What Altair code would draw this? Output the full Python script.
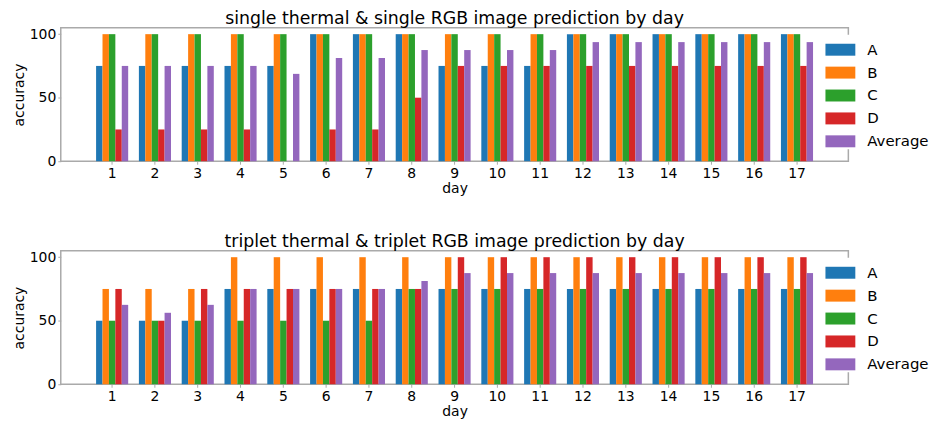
import altair as alt
import pandas as pd

days = list(range(1, 18))
series = ["A", "B", "C", "D", "Average"]
colors = ["#1f77b4", "#ff7f0e", "#2ca02c", "#d62728", "#9467bd"]

# single thermal & single RGB
s_A = [75, 75, 75, 75, 75, 100, 100, 100, 75, 75, 75, 100, 100, 100, 100, 100, 100]
s_B = [100] * 17
s_C = [100] * 17
s_D = [25, 25, 25, 25, 0, 25, 25, 50, 75, 75, 75, 75, 75, 75, 75, 75, 75]
s_Avg = [75, 75, 75, 75, 68.75, 81.25, 81.25, 87.5, 87.5, 87.5, 87.5, 93.75, 93.75, 93.75, 93.75, 93.75, 93.75]

# triplet thermal & triplet RGB
t_A = [50, 50, 50, 75, 75, 75, 75, 75, 75, 75, 75, 75, 75, 75, 75, 75, 75]
t_B = [75, 75, 75, 100, 100, 100, 100, 100, 100, 100, 100, 100, 100, 100, 100, 100, 100]
t_C = [50, 50, 50, 50, 50, 50, 50, 75, 75, 75, 75, 75, 75, 75, 75, 75, 75]
t_D = [75, 50, 75, 75, 75, 75, 75, 75, 100, 100, 100, 100, 100, 100, 100, 100, 100]
t_Avg = [62.5, 56.25, 62.5, 75, 75, 75, 75, 81.25, 87.5, 87.5, 87.5, 87.5, 87.5, 87.5, 87.5, 87.5, 87.5]

titles = ["single thermal & single RGB image prediction by day",
          "triplet thermal & triplet RGB image prediction by day"]


def long_df(cols):
    rows = []
    for name, vals in zip(series, cols):
        for d, v in zip(days, vals):
            rows.append({"day": d, "series": name, "accuracy": v})
    return pd.DataFrame(rows)


FONT = "DejaVu Sans"


def panel(df, title):
    return alt.Chart(df, title=alt.Title(title, fontSize=17.4, font=FONT, fontWeight="normal",
                                          offset=0, color="#000")).mark_bar().encode(
        x=alt.X("day:O", title="day",
                scale=alt.Scale(paddingInner=0.25, paddingOuter=0.825),
                axis=alt.Axis(labelAngle=0, domain=False, tickColor="#aaa",
                              tickSize=3, labelPadding=2, titlePadding=1)),
        xOffset=alt.XOffset("series:N", sort=series,
                            scale=alt.Scale(paddingInner=0, paddingOuter=0)),
        y=alt.Y("accuracy:Q", title="accuracy",
                scale=alt.Scale(domain=[0, 105], nice=False),
                axis=alt.Axis(values=[0, 50, 100], grid=False, domain=False,
                              tickColor="#aaa", tickSize=3, labelPadding=2,
                              titlePadding=3)),
        color=alt.Color("series:N", sort=series,
                        scale=alt.Scale(domain=series, range=colors),
                        legend=alt.Legend(title=None, orient="none", legendX=768, legendY=7,
                                          symbolType="M-1,-0.4H1V0.4H-1Z", symbolSize=900,
                                          symbolStrokeWidth=0, labelFontSize=15, labelFont=FONT,
                                          labelOffset=12, rowPadding=-0.5, padding=0,
                                          fillColor="white", labelColor="#000")),
    ).properties(width=791, height=134)


top = panel(long_df([s_A, s_B, s_C, s_D, s_Avg]), titles[0])
bottom = panel(long_df([t_A, t_B, t_C, t_D, t_Avg]), titles[1])

chart = alt.vconcat(top, bottom, spacing=36).resolve_scale(color="independent").resolve_legend(
    color="independent"
).configure_view(stroke="#aaa", strokeWidth=1.5).configure_axis(
    labelFont=FONT, titleFont=FONT, labelFontSize=14, titleFontSize=14,
    titleFontWeight="normal", labelColor="#000", titleColor="#000"
).properties(padding={"left": 3, "top": 0, "right": 0, "bottom": 0})

chart.save("out.html", embed_options={"renderer": "svg", "actions": False})
